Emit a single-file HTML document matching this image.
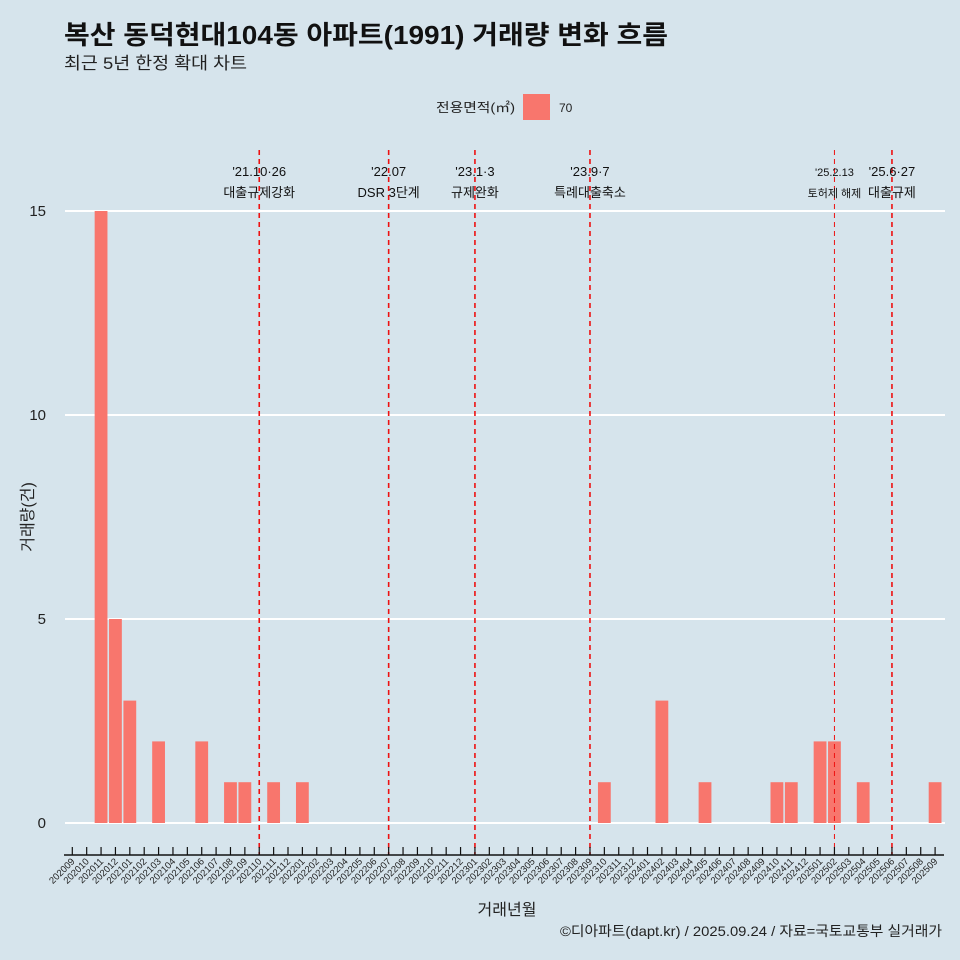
<!DOCTYPE html>
<html><head><meta charset="utf-8"><style>
body{margin:0;background:#d6e4ec;}
svg{display:block;font-family:"Liberation Sans","Noto Sans CJK KR",sans-serif;}
</style></head><body>
<svg width="960" height="960" id="c">
<rect width="960" height="960" fill="#d6e4ec"/>
<text x="64" y="44" font-size="26" font-weight="bold" fill="#111" textLength="604" lengthAdjust="spacingAndGlyphs">복산 동덕현대104동 아파트(1991) 거래량 변화 흐름</text>
<text x="64" y="69" font-size="17" fill="#222" textLength="183" lengthAdjust="spacingAndGlyphs">최근 5년 한정 확대 차트</text>
<g>
<text x="515" y="112" font-size="13" text-anchor="end" fill="#222" textLength="79" lengthAdjust="spacingAndGlyphs">전용면적(㎡)</text>
<rect x="523" y="94" width="27" height="26" fill="#f8766d"/>
<text x="559" y="112" font-size="12" fill="#222">70</text>
</g>
<g id="grid"></g><g id="bars"></g><g id="events"></g><g id="axes"></g>
<text x="507" y="915" font-size="16" text-anchor="middle" fill="#222">거래년월</text>
<text transform="translate(33,517) rotate(-90)" font-size="16" text-anchor="middle" fill="#222">거래량(건)</text>
<text x="942" y="936" font-size="14" text-anchor="end" fill="#222" textLength="382" lengthAdjust="spacingAndGlyphs">©디아파트(dapt.kr) / 2025.09.24 / 자료=국토교통부 실거래가</text>
</svg>
<script>
const months=[];for(let y=2020;y<=2025;y++)for(let m=1;m<=12;m++){const k=y*100+m;if(k>=202009&&k<=202509)months.push(String(k));}
const barMonths=["202011","202012","202101","202103","202106","202108","202109","202111","202201","202310","202402","202405","202410","202411","202501","202502","202504","202509"];
const barValues=[15,5,3,2,2,1,1,1,1,1,3,1,1,1,2,2,1,1];
const yTicks=[0,5,10,15];
const eventMonths=["202110","202207","202301","202309","202502","202506"];
const eventLine1=["'21.10·26","'22.07","'23.1·3","'23.9·7","'25.2.13","'25.6·27"];
const eventLine2=["대출규제강화","DSR 3단계","규제완화","특례대출축소","토허제 해제","대출규제"];
const NS="http://www.w3.org/2000/svg";
const xs=i=>72.3+i*14.38;
const ys=v=>823-v*40.8;
function mk(p,t,a){const e=document.createElementNS(NS,t);for(const k in a)e.setAttribute(k,a[k]);document.getElementById(p).appendChild(e);return e;}
yTicks.forEach(v=>{
 const l=mk('grid','line',{x1:65,x2:945,y1:ys(v),y2:ys(v),stroke:'#fff','stroke-width':2});
 
 
 const t=mk('grid','text',{x:46,y:ys(v)+5,'font-size':15,'text-anchor':'end',fill:'#222'});t.textContent=v;
 
 
});
barMonths.forEach((m,i)=>{
 const idx=months.indexOf(m);
 const r=mk('bars','rect',{x:xs(idx)-6.4,y:ys(barValues[i]),width:12.8,height:ys(0)-ys(barValues[i]),fill:'#f8766d'});
 
 
});
eventMonths.forEach((m,i)=>{
 const x=xs(months.indexOf(m));const thin=m==="202502";
 const l=mk('events','line',{x1:x,x2:x,y1:150,y2:855,stroke:'#ee1111','stroke-width':thin?1:1.6,'stroke-dasharray':'5,4'});
 
 
 const fs=thin?11:13;
 const t1=mk('events','text',{x:x,y:176,'font-size':thin?11:13,'text-anchor':'middle',fill:'#111'});t1.textContent=eventLine1[i];
 
 
 const t2=mk('events','text',{x:x,y:197,'font-size':fs,'text-anchor':'middle',fill:'#111'});t2.textContent=eventLine2[i];
 
 
});
const ax=mk('axes','line',{x1:64,x2:944,y1:855,y2:855,stroke:'#111','stroke-width':1.5});


months.forEach((m,i)=>{
 const x=xs(i);
 const tk=mk('axes','line',{x1:x,x2:x,y1:847,y2:855,stroke:'#111','stroke-width':1.2});
 
 
 const t=mk('axes','text',{x:x+3,y:862,'font-size':9.5,'text-anchor':'end',fill:'#222',transform:`rotate(-45 ${x+3} 862)`});t.textContent=m;
 
 
});
</script>
</body></html>
